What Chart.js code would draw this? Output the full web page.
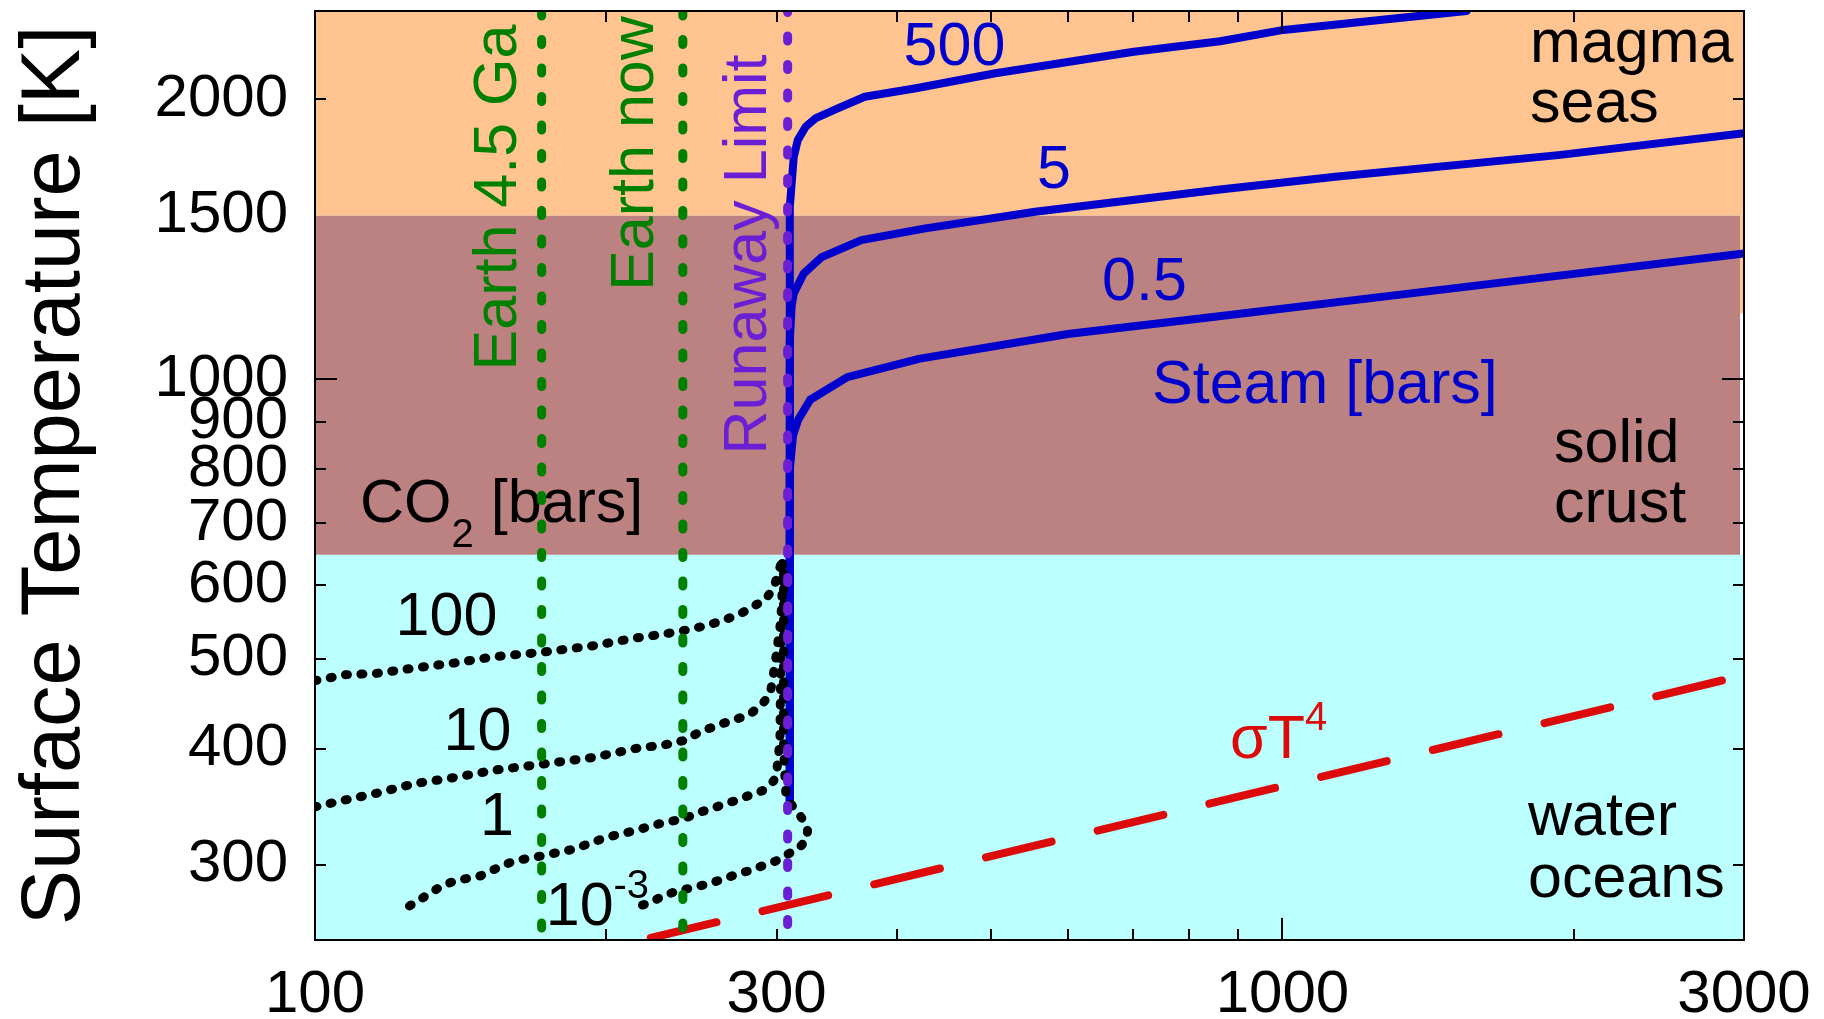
<!DOCTYPE html>
<html>
<head>
<meta charset="utf-8">
<script src="https://cdn.jsdelivr.net/npm/chart.js@4/dist/chart.umd.min.js"></script>
<style>
html, body { margin: 0; padding: 0; background: #ffffff; }
canvas { display: block; }
</style>
</head>
<body>
<canvas id="c" width="1824" height="1019"></canvas>
<script>
// ---------------- data ----------------
const xRange = [100, 3000];
const yRange = [249, 2490];
const xTickLabels = [100, 300, 1000, 3000];
const yTickLabels = [300, 400, 500, 600, 700, 800, 900, 1000, 1500, 2000];
const xMinorTicks = [200, 300, 400, 500, 600, 700, 800, 900, 2000];
const xMajorTicks = [1000];
const yMinorTicks = [300, 400, 500, 600, 700, 800, 900, 2000];
const yMajorTicks = [1000];

// surface regimes (temperature bands)
const regimeNames = ['water oceans', 'solid crust', 'magma seas'];
const regimeLower = [249, 647, 1500];
const regimeUpper = [647, 1500, 2490];
const crustRightEdge = 2972;      // crust band stops just short of the right axis
const magmaStripLower = 1177;     // magma colour runs down to here at the far right

// vertical reference fluxes
const markerNames = ['Earth 4.5 Ga', 'Earth now', 'Runaway Limit'];
const markerFlux = [171.5, 240, 308];

// steam atmospheres (bars)
const steamLabels = ['0.5', '5', '500'];
const steam05X = [309.6, 309.6, 312, 316, 325, 355, 422, 600, 822, 1500, 3000];
const steam05T = [347, 800, 870, 905, 950, 1005, 1052, 1118, 1162, 1252, 1365];
const steam5X = [309.6, 309.6, 311, 312.5, 320, 334, 367, 426, 555, 862, 1134, 1928, 3000];
const steam5T = [347, 1100, 1200, 1236, 1299, 1353, 1411, 1452, 1514, 1600, 1651, 1742, 1839];
const steam500X = [309.6, 309.6, 312.5, 315.5, 321.5, 329, 347, 370, 418, 505, 702, 862, 1003, 1550];
const steam500T = [347, 1532, 1734, 1808, 1869, 1908, 1956, 2013, 2056, 2134, 2251, 2310, 2376, 2490];

// CO2 atmospheres (bars)
const co2Labels = ['100', '10', '1', '10^-3'];
const co2_100X = [100, 107.6, 115.5, 126.9, 139.4, 153.2, 171.5, 193.9, 214.5, 230, 240, 254, 265, 275, 283, 292.6, 298, 301, 303.8];
const co2_100T = [473.5, 480.6, 482, 488.7, 494.8, 502.5, 508, 516.4, 526.4, 531.7, 536, 542.8, 550.5, 558.7, 568, 580, 596.7, 617, 637.6];
const co2_10X = [100, 107, 115.5, 126.9, 139.4, 153.2, 171.5, 193.9, 215.5, 230, 240, 249.4, 261.4, 272.7, 281.8, 290, 295.3, 296.7, 299.5, 302.4, 305, 304];
const co2_10T = [346.3, 352, 358, 367, 372.5, 379.3, 385, 391.5, 400.6, 403.9, 408, 416.5, 424.5, 430.5, 436, 447, 458, 469.6, 501.7, 540.5, 602, 638];
const co2_1X = [125.2, 129.3, 134.3, 139.4, 148.3, 154.7, 160.6, 171.5, 184.9, 199.8, 213.5, 229, 240, 249.4, 261.4, 271.4, 280.5, 290, 298, 300.4, 302.4, 303, 304, 304];
const co2_1T = [270.9, 276.5, 283.5, 288.3, 291.9, 298, 302.9, 306.7, 311.8, 321, 326.3, 333, 336, 341.5, 347, 351.5, 356, 360.4, 369.4, 381.8, 408, 500, 600, 638];
const co2_m3X = [218, 222, 229, 236.7, 245.8, 254, 263.8, 272.7, 280.5, 290, 299.5, 308, 315.5, 321.5, 323, 320, 315.5, 309.6, 306.7, 305, 305, 305, 305];
const co2_m3T = [271.5, 273.1, 277.7, 281.2, 283.5, 285.9, 289.4, 293, 295.5, 299.2, 302.9, 308, 311.8, 318.3, 326.3, 334.7, 341.5, 350, 357.5, 400, 500, 600, 638];

// blackbody sigma T^4 line
const sigmaX = [218, 3000];
const sigmaT = [249, 480];

// ---------------- styles ----------------
const FONT = '"Liberation Sans", Arial, Helvetica, sans-serif';
const GREEN = '#008000';
const PURPLE = '#6B1FD4';
const BLUE = '#0000CD';
const RED = '#DD0A0A';
const BLACK = '#000000';
const regimeColors = ['#BBFFFF', '#BC8181', '#FFC48F'];

const pts = (xs, ys) => xs.map((x, i) => ({ x: x, y: ys[i] }));

const dotted = (color, width, dash, offset) => ({
  borderColor: color, borderWidth: width, borderDash: dash, borderDashOffset: offset || 0,
  borderCapStyle: 'round', borderJoinStyle: 'round', pointRadius: 0, fill: false
});
const solid = (color, width) => ({
  borderColor: color, borderWidth: width, borderCapStyle: 'round', borderJoinStyle: 'round', pointRadius: 0, fill: false
});

const datasets = [
  Object.assign({ label: markerNames[0], data: pts([markerFlux[0], markerFlux[0]], [yRange[1], yRange[0]]) }, dotted(GREEN, 9, [5, 23.5], 0)),
  Object.assign({ label: markerNames[1], data: pts([markerFlux[1], markerFlux[1]], [yRange[1], yRange[0]]) }, dotted(GREEN, 9, [5, 23.5], 0)),
  Object.assign({ label: markerNames[2], data: pts([markerFlux[2], markerFlux[2]], [yRange[1], yRange[0]]) }, dotted(PURPLE, 9, [5, 23.5], 3.5)),
  Object.assign({ label: 'CO2 ' + co2Labels[0], data: pts(co2_100X, co2_100T) }, dotted(BLACK, 9, [2, 13.5], 0)),
  Object.assign({ label: 'CO2 ' + co2Labels[1], data: pts(co2_10X, co2_10T) }, dotted(BLACK, 9, [2, 13.5], 0)),
  Object.assign({ label: 'CO2 ' + co2Labels[2], data: pts(co2_1X, co2_1T) }, dotted(BLACK, 9, [2, 13.5], 0)),
  Object.assign({ label: 'CO2 ' + co2Labels[3], data: pts(co2_m3X, co2_m3T) }, dotted(BLACK, 9, [2, 13.5], 0)),
  Object.assign({ label: 'Steam ' + steamLabels[0], data: pts(steam05X, steam05T) }, solid(BLUE, 8)),
  Object.assign({ label: 'Steam ' + steamLabels[1], data: pts(steam5X, steam5T) }, solid(BLUE, 8)),
  Object.assign({ label: 'Steam ' + steamLabels[2], data: pts(steam500X, steam500T) }, solid(BLUE, 8)),
  Object.assign({ label: 'sigma T^4', data: pts(sigmaX, sigmaT) }, dotted(RED, 8, [67.5, 47.4], -8.6))
];

// ---------------- annotation texts (pixel placement) ----------------
const annotations = [
  { t: 'Earth 4.5 Ga', x: 516, y: 197.5, size: 61, color: GREEN, align: 'center', rot: true },
  { t: 'Earth now', x: 653, y: 153.5, size: 61, color: GREEN, align: 'center', rot: true },
  { t: 'Runaway Limit', x: 766, y: 254.5, size: 61, color: PURPLE, align: 'center', rot: true },
  { t: steamLabels[2], x: 954.5, y: 65, size: 61, color: BLUE, align: 'center' },
  { t: steamLabels[1], x: 1054, y: 188, size: 61, color: BLUE, align: 'center' },
  { t: steamLabels[0], x: 1144.5, y: 300, size: 61, color: BLUE, align: 'center' },
  { t: 'Steam [bars]', x: 1152, y: 403, size: 61, color: BLUE, align: 'left' },
  { t: 'magma', x: 1530, y: 62, size: 61, color: BLACK, align: 'left' },
  { t: 'seas', x: 1530, y: 121.7, size: 61, color: BLACK, align: 'left' },
  { t: 'solid', x: 1554, y: 461.7, size: 61, color: BLACK, align: 'left' },
  { t: 'crust', x: 1554, y: 521.7, size: 61, color: BLACK, align: 'left' },
  { t: 'water', x: 1528, y: 835, size: 61, color: BLACK, align: 'left' },
  { t: 'oceans', x: 1528, y: 896.7, size: 61, color: BLACK, align: 'left' },
  { t: co2Labels[0], x: 446.5, y: 635, size: 61, color: BLACK, align: 'center' },
  { t: co2Labels[1], x: 477.5, y: 750, size: 61, color: BLACK, align: 'center' },
  { t: co2Labels[2], x: 480, y: 835, size: 61, color: BLACK, align: 'left' }
];
// composite labels with sub/superscripts: [text, size, baselineShift]
const richLabels = [
  { x: 360, y: 521.7, color: BLACK, parts: [['CO', 61, 0], ['2', 40, 25], [' [bars]', 61, 0]] },
  { x: 545.7, y: 925, color: BLACK, parts: [['10', 61, 0], ['-3', 40, -27]] },
  { x: 1230, y: 758, color: RED, parts: [['σT', 61, 0], ['4', 40, -28]] }
];

function valX(chart, v) { return chart.scales.x.getPixelForValue(v); }
function valY(chart, v) { return chart.scales.y.getPixelForValue(v); }

const backgroundPlugin = {
  id: 'regimes',
  beforeDatasetsDraw(chart) {
    const ctx = chart.ctx;
    const a = chart.chartArea;
    ctx.save();
    for (let i = 0; i < regimeNames.length; i++) {
      const right = (i === 1) ? valX(chart, crustRightEdge) : a.right;
      const yTop = valY(chart, regimeUpper[i]);
      const yBot = valY(chart, regimeLower[i]);
      ctx.fillStyle = regimeColors[i];
      ctx.fillRect(a.left, yTop, right - a.left, yBot - yTop);
    }
    // magma colour strip at far right
    const xs = valX(chart, crustRightEdge);
    ctx.fillStyle = regimeColors[2];
    ctx.fillRect(xs, valY(chart, regimeLower[2]), a.right - xs, valY(chart, magmaStripLower) - valY(chart, regimeLower[2]));

    // texts
    ctx.textBaseline = 'alphabetic';
    annotations.forEach(an => {
      ctx.save();
      ctx.font = an.size + 'px ' + FONT;
      ctx.fillStyle = an.color;
      ctx.textAlign = an.align;
      ctx.translate(an.x, an.y);
      if (an.rot) ctx.rotate(-Math.PI / 2);
      ctx.fillText(an.t, 0, 0);
      ctx.restore();
    });
    richLabels.forEach(rl => {
      let x = rl.x;
      ctx.fillStyle = rl.color;
      ctx.textAlign = 'left';
      rl.parts.forEach(p => {
        ctx.font = p[1] + 'px ' + FONT;
        ctx.fillText(p[0], x, rl.y + p[2]);
        x += ctx.measureText(p[0]).width;
      });
    });
    ctx.restore();
  },
  afterDraw(chart) {
    const ctx = chart.ctx;
    const a = chart.chartArea;
    ctx.save();
    ctx.strokeStyle = '#000';
    ctx.lineWidth = 2;
    ctx.lineCap = 'butt';
    const drawX = (v, len) => {
      const px = Math.round(valX(chart, v));
      ctx.beginPath();
      ctx.moveTo(px, a.bottom); ctx.lineTo(px, a.bottom - len);
      ctx.moveTo(px, a.top); ctx.lineTo(px, a.top + len);
      ctx.stroke();
    };
    const drawY = (v, len) => {
      const py = Math.round(valY(chart, v));
      ctx.beginPath();
      ctx.moveTo(a.left, py); ctx.lineTo(a.left + len, py);
      ctx.moveTo(a.right, py); ctx.lineTo(a.right - len, py);
      ctx.stroke();
    };
    xMinorTicks.forEach(v => drawX(v, 11));
    xMajorTicks.forEach(v => drawX(v, 22));
    yMinorTicks.forEach(v => drawY(v, 11));
    yMajorTicks.forEach(v => drawY(v, 22));
    ctx.strokeRect(a.left, a.top, a.right - a.left, a.bottom - a.top);
    ctx.restore();
  }
};

const noPad = s => { s.paddingTop = 0; s.paddingBottom = 0; s.paddingLeft = 0; s.paddingRight = 0; };

new Chart(document.getElementById('c'), {
  type: 'line',
  data: { datasets: datasets },
  options: {
    responsive: false,
    animation: false,
    layout: { padding: { top: 11, right: 80, left: 0, bottom: 0 } },
    plugins: { legend: { display: false }, tooltip: { enabled: false }, title: { display: false } },
    elements: { point: { radius: 0 }, line: { tension: 0 } },
    scales: {
      x: {
        type: 'logarithmic',
        min: xRange[0], max: xRange[1],
        grid: { display: false, drawTicks: false },
        border: { display: false },
        afterBuildTicks: s => { s.ticks = xTickLabels.map(v => ({ value: v })); },
        afterFit: s => { s.height = 79; noPad(s); },
        ticks: {
          autoSkip: false, maxRotation: 0, minRotation: 0, padding: 19,
          color: '#000', font: { family: FONT, size: 60 },
          callback: v => String(v)
        }
      },
      y: {
        type: 'logarithmic',
        min: yRange[0], max: yRange[1],
        grid: { display: false, drawTicks: false },
        border: { display: false },
        afterBuildTicks: s => { s.ticks = yTickLabels.map(v => ({ value: v })); },
        afterFit: s => { s.width = 315; noPad(s); },
        ticks: {
          autoSkip: false, padding: 27,
          color: '#000', font: { family: FONT, size: 60 },
          callback: v => String(v)
        },
        title: {
          display: true, text: 'Surface Temperature [K]', color: '#000',
          font: { family: FONT, size: 83 }, padding: { top: 6, bottom: 0 }
        }
      }
    }
  },
  plugins: [backgroundPlugin]
});
</script>
</body>
</html>
